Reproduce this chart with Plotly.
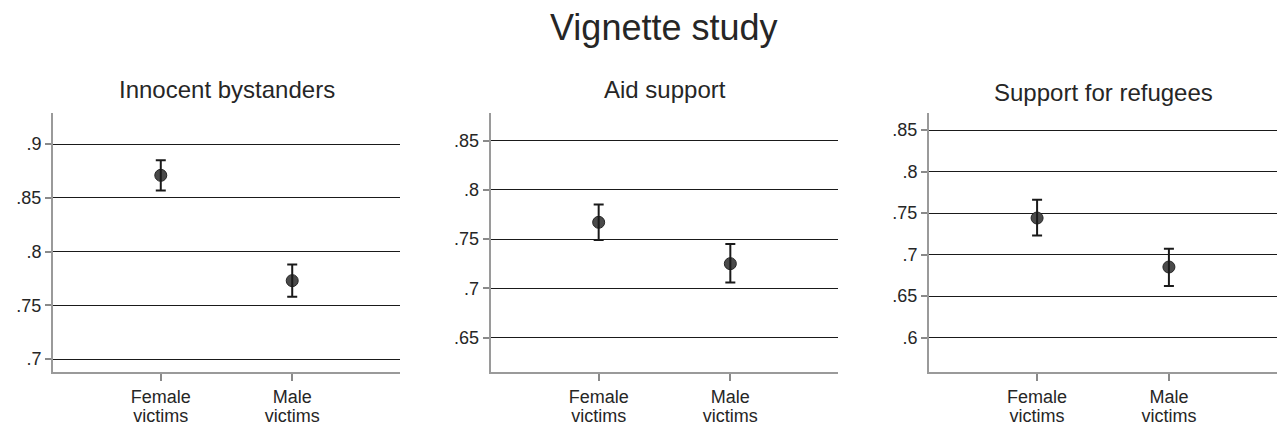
import plotly.graph_objects as go

# ---- data ----
categories_line1 = ["Female", "Male"]
categories_line2 = ["victims", "victims"]
cat_pos = [1, 2]
panel_titles = ["Innocent bystanders", "Aid support", "Support for refugees"]

bystanders_est = [0.871, 0.773]
bystanders_lo = [0.857, 0.758]
bystanders_hi = [0.885, 0.788]

aid_est = [0.767, 0.725]
aid_lo = [0.749, 0.706]
aid_hi = [0.785, 0.745]

refugees_est = [0.744, 0.685]
refugees_lo = [0.723, 0.662]
refugees_hi = [0.766, 0.707]

bystanders_ticks = [0.7, 0.75, 0.8, 0.85, 0.9]
aid_ticks = [0.65, 0.7, 0.75, 0.8, 0.85]
refugees_ticks = [0.6, 0.65, 0.7, 0.75, 0.8, 0.85]
bystanders_ticktext = [".7", ".75", ".8", ".85", ".9"]
aid_ticktext = [".65", ".7", ".75", ".8", ".85"]
refugees_ticktext = [".6", ".65", ".7", ".75", ".8", ".85"]

y_ranges = [[0.688, 0.929], [0.615, 0.878], [0.5585, 0.8705]]

panels = [
    (bystanders_est, bystanders_lo, bystanders_hi, bystanders_ticks, bystanders_ticktext),
    (aid_est, aid_lo, aid_hi, aid_ticks, aid_ticktext),
    (refugees_est, refugees_lo, refugees_hi, refugees_ticks, refugees_ticktext),
]

W, H = 1277, 440
FONT = "Liberation Sans, Arial, Helvetica, sans-serif"
x_px = [(53, 400), (490.7, 838.3), (929, 1277)]
y_top, y_bot = 113, 372
ydom = [(H - y_bot) / H, (H - y_top) / H]
TXT = "#262626"

fig = go.Figure()
layout = dict(
    width=W, height=H,
    margin=dict(l=0, r=0, t=0, b=0),
    paper_bgcolor="white", plot_bgcolor="white",
    showlegend=False,
    font=dict(family=FONT, color=TXT),
)

annotations = []
title_y = [89, 89, 93]
for i, (est, lo, hi, tv, tt) in enumerate(panels):
    n = "" if i == 0 else str(i + 1)
    xa, ya = "x" + n, "y" + n
    xa2_num = 4 + i
    # markers first
    fig.add_trace(go.Scatter(
        x=cat_pos, y=est, mode="markers", xaxis=xa, yaxis=ya,
        marker=dict(size=12, color="#4a4a4a", line=dict(color="#262626", width=1)),
        hoverinfo="skip",
    ))
    # error bars on top
    fig.add_trace(go.Scatter(
        x=cat_pos, y=est, mode="markers", xaxis=xa, yaxis=ya,
        marker=dict(size=1, color="rgba(0,0,0,0)"),
        error_y=dict(type="data", symmetric=False,
                     array=[h - e for h, e in zip(hi, est)],
                     arrayminus=[e - l for e, l in zip(est, lo)],
                     color="#1a1a1a", thickness=2, width=5),
        hoverinfo="skip",
    ))
    x0, x1 = x_px[i]
    layout["xaxis" + n] = dict(
        domain=[x0 / W, x1 / W], range=[0.18, 2.82], anchor=ya,
        tickvals=cat_pos, ticktext=categories_line1,
        showline=True, linecolor="#9a9a9a", linewidth=2,
        ticks="outside", ticklen=7, tickwidth=2, tickcolor="#8a8a8a",
        showgrid=False, zeroline=False, automargin=False,
        tickfont=dict(size=18, color=TXT, family=FONT),
    )
    # second line of the category labels
    layout["xaxis" + str(xa2_num)] = dict(
        domain=[x0 / W, x1 / W], range=[0.18, 2.82], anchor=ya,
        overlaying=xa, side="bottom",
        tickvals=cat_pos, ticktext=categories_line2,
        showline=False, ticks="outside", ticklen=27, tickwidth=1,
        tickcolor="rgba(0,0,0,0)",
        showgrid=False, zeroline=False, automargin=False,
        tickfont=dict(size=18, color=TXT, family=FONT),
    )
    fig.add_trace(go.Scatter(
        x=cat_pos, y=est, mode="markers", xaxis="x" + str(xa2_num), yaxis=ya,
        marker=dict(size=1, color="rgba(0,0,0,0)"), hoverinfo="skip",
    ))
    layout["yaxis" + n] = dict(
        domain=ydom, range=y_ranges[i], anchor=xa,
        tickvals=tv, ticktext=tt,
        showline=True, linecolor="#9a9a9a", linewidth=2,
        ticks="outside", ticklen=6, tickwidth=2, tickcolor="#8a8a8a",
        showgrid=True, gridcolor="#1a1a1a", gridwidth=1.3,
        zeroline=False, automargin=False,
        tickfont=dict(size=18, color=TXT, family=FONT),
    )
    annotations.append(dict(
        text=panel_titles[i], xref="paper", yref="paper",
        x=((x0 + x1) / 2) / W, y=(H - title_y[i]) / H,
        xanchor="center", yanchor="middle", showarrow=False,
        font=dict(size=24, color=TXT, family=FONT),
    ))

annotations.append(dict(
    text="Vignette study", xref="paper", yref="paper",
    x=664 / W, y=(H - 28) / H, xanchor="center", yanchor="middle",
    showarrow=False, font=dict(size=36, color=TXT, family=FONT),
))
layout["annotations"] = annotations
fig.update_layout(**layout)
fig.write_html("out.html", config={"displayModeBar": False},
               post_script="document.body.style.margin='0';")
